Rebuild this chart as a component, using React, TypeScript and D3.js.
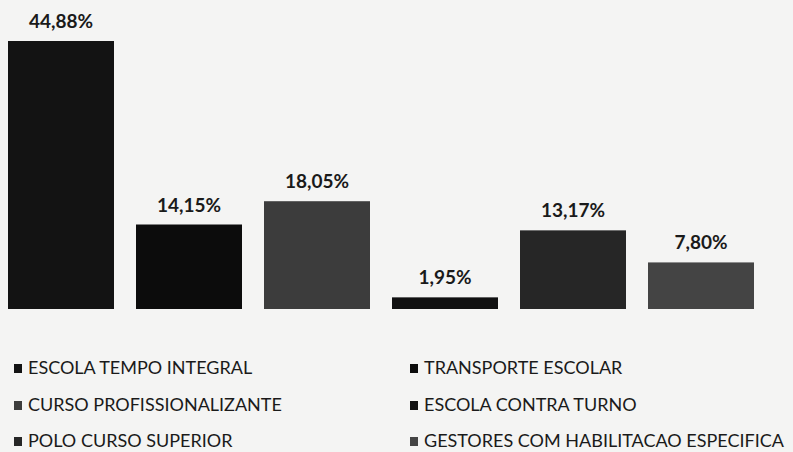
import React, { useRef, useEffect } from 'react';
import * as d3 from 'd3';

const categories = [
  'ESCOLA TEMPO INTEGRAL',
  'TRANSPORTE ESCOLAR',
  'CURSO PROFISSIONALIZANTE',
  'ESCOLA CONTRA TURNO',
  'POLO CURSO SUPERIOR',
  'GESTORES COM HABILITACAO ESPECIFICA',
];
const values = [44.88, 14.15, 18.05, 1.95, 13.17, 7.8];
const colors = ['#131313', '#0c0c0c', '#3c3c3c', '#111111', '#262626', '#444444'];

const App = () => {
  const svgRef = useRef<SVGSVGElement>(null);

  useEffect(() => {
    const width = 793;
    const height = 452;
    const svg = d3.select(svgRef.current);
    svg.selectAll('*').remove();

    svg.attr('width', width).attr('height', height).style('display', 'block');

    svg.append('rect').attr('width', width).attr('height', height).attr('fill', '#f4f4f3');

    const x = d3.scaleBand<string>()
      .domain(categories)
      .range([-3, 765])
      .paddingInner(0.172)
      .paddingOuter(0.086);

    const y = d3.scaleLinear().domain([0, 44.88]).range([309, 41]);

    const fmt = (v: number) => v.toFixed(2).replace('.', ',') + '%';

    // bars
    svg.append('g')
      .selectAll('rect')
      .data(values)
      .join('rect')
      .attr('x', (d, i) => x(categories[i])!)
      .attr('y', d => y(d))
      .attr('width', x.bandwidth())
      .attr('height', d => y(0) - y(d))
      .attr('fill', (d, i) => colors[i]);

    // value labels
    svg.append('g')
      .selectAll('text')
      .data(values)
      .join('text')
      .attr('x', (d, i) => x(categories[i])! + x.bandwidth() / 2)
      .attr('y', d => y(d) - 13)
      .attr('text-anchor', 'middle')
      .attr('font-family', 'Lato, "Open Sans", sans-serif')
      .attr('font-weight', 'bold')
      .attr('font-size', 19)
      .attr('fill', '#1a1a1a')
      .text(d => fmt(d));

    // legend, two columns
    const legend = svg.append('g');
    const colX = [14, 410];
    const rowY = [368, 405, 441];
    categories.forEach((c, i) => {
      const lx = colX[i % 2];
      const ly = rowY[Math.floor(i / 2)];
      legend.append('rect')
        .attr('x', lx).attr('y', ly - 4)
        .attr('width', 8).attr('height', 9)
        .attr('fill', colors[i]);
      legend.append('text')
        .attr('x', lx + 14).attr('y', ly)
        .attr('dy', '0.36em')
        .attr('font-family', 'Lato, "Open Sans", sans-serif')
        .attr('font-size', 18)
        .attr('fill', '#1a1a1a')
        .text(c);
    });
  }, []);

  return (
    <div style={{ position: 'fixed', left: 0, top: 0 }}>
      <svg ref={svgRef}></svg>
    </div>
  );
};

export default App;
